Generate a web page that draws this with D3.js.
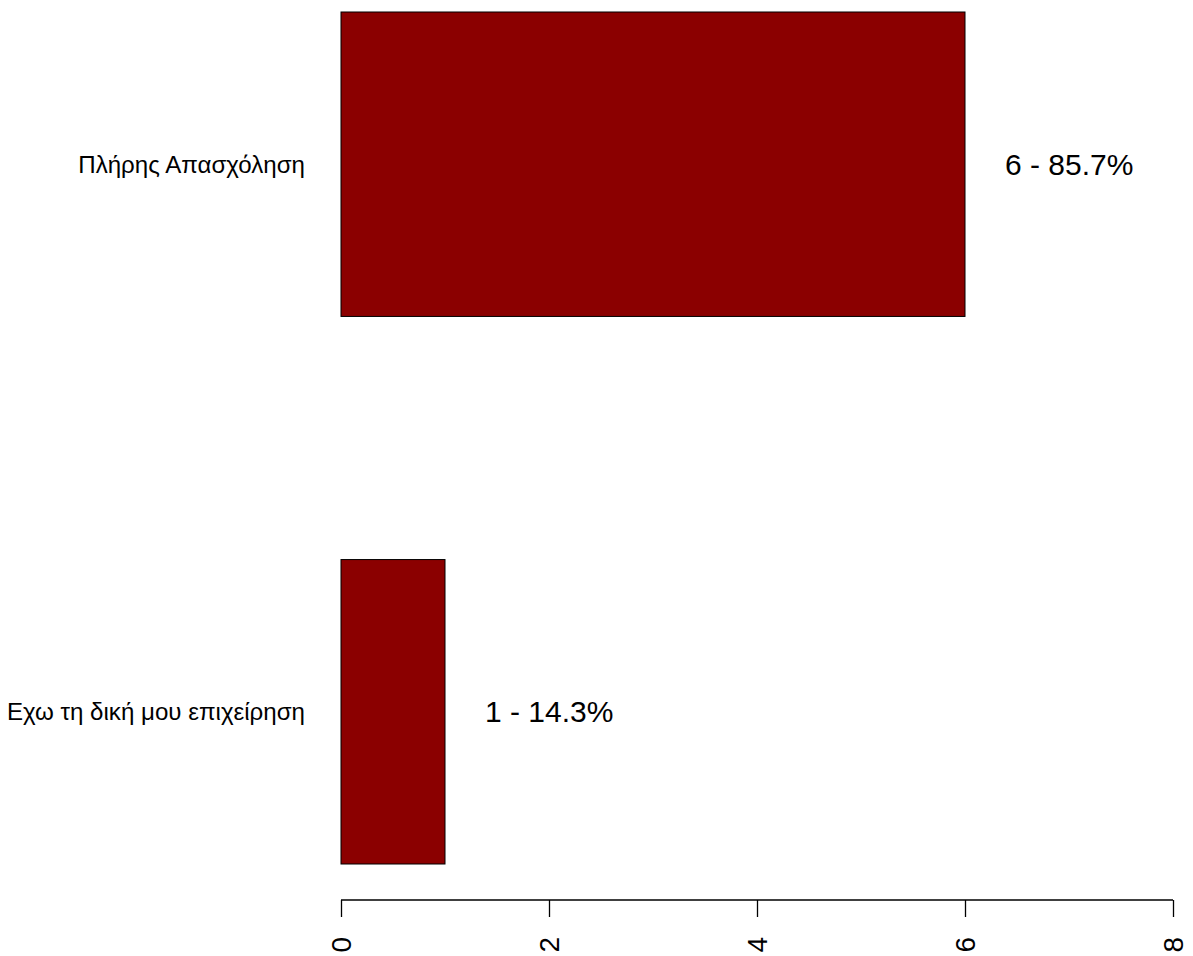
<!DOCTYPE html>
<html><head><meta charset="utf-8">
<script src="https://cdn.jsdelivr.net/npm/d3@7"></script>
<style>body{margin:0;background:#fff}svg{display:block}text{font-family:"Liberation Sans",Arial,sans-serif;fill:#000}</style>
</head><body>
<script>
const categories = ["Πλήρης Απασχόληση", "Εχω τη δική μου επιχείρηση"];
const counts = [6, 1];
const valueLabels = ["6 - 85.7%", "1 - 14.3%"];
const xTicks = [0, 2, 4, 6, 8];

const W = 1193, H = 956;
const svg = d3.select("body").append("svg").attr("width", W).attr("height", H);
const x = d3.scaleLinear().domain([0, 8]).range([341, 1173]);
const y = d3.scaleBand().domain(categories).range([12, 864]).paddingInner(0.444).paddingOuter(0);

svg.selectAll("rect.bar").data(categories).enter().append("rect")
  .attr("class", "bar")
  .attr("x", x(0)).attr("y", d => y(d))
  .attr("width", (d, i) => x(counts[i]) - x(0))
  .attr("height", y.bandwidth())
  .attr("fill", "#8B0000").attr("stroke", "#000").attr("stroke-width", 1);

svg.selectAll("text.cat").data(categories).enter().append("text")
  .attr("class", "cat")
  .attr("x", 305).attr("y", d => y(d) + y.bandwidth() / 2)
  .attr("text-anchor", "end").attr("dominant-baseline", "central")
  .attr("font-size", 24.1).text(d => d);

svg.selectAll("text.val").data(categories).enter().append("text")
  .attr("class", "val")
  .attr("x", (d, i) => x(counts[i]) + 40).attr("y", d => y(d) + y.bandwidth() / 2)
  .attr("dominant-baseline", "central")
  .attr("font-size", 30).text((d, i) => valueLabels[i]);

const axis = d3.axisBottom(x).tickValues(xTicks).tickSize(17).tickSizeOuter(0).tickFormat(d3.format("d"));
const g = svg.append("g").attr("transform", "translate(0,900)").call(axis);
g.select(".domain").attr("stroke", "#000").attr("stroke-width", 1.3).attr("d", `M${x(0)},0H${x(8)}`);
g.selectAll(".tick line").attr("stroke", "#000").attr("stroke-width", 1.3);
g.selectAll(".tick text")
  .attr("font-size", 28).attr("font-family", "Liberation Sans, Arial, sans-serif")
  .attr("transform", "rotate(-90)")
  .attr("x", -37).attr("y", 0).attr("dy", "0.35em")
  .attr("text-anchor", "end");
</script>
</body></html>
